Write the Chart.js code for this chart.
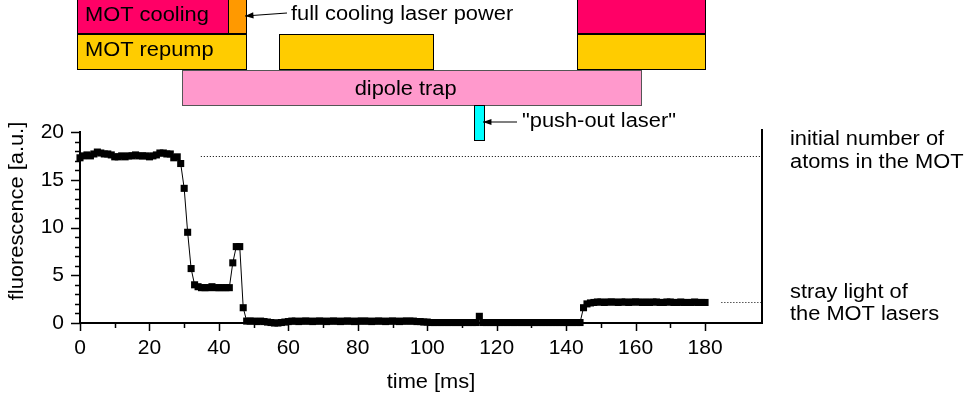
<!DOCTYPE html>
<html>
<head>
<meta charset="utf-8">
<script src="https://cdn.jsdelivr.net/npm/chart.js@4"></script>
<style>
  html, body { margin: 0; padding: 0; background: #fff; }
  canvas { display: block; }
</style>
</head>
<body>
<canvas id="trace" width="965" height="403"></canvas>
<script>
// fluorescence trace, one sample per ms starting at t = 0
const startMs = 0;
const stepMs = 1;
const fluorescence = [
  17.3, 17.5, 17.6, 17.5, 17.7, 17.9, 17.8, 17.7, 17.7, 17.6,   // 0
  17.4, 17.4, 17.5, 17.4, 17.5, 17.5, 17.6, 17.5, 17.5, 17.5,   // 10
  17.4, 17.5, 17.6, 17.8, 17.8, 17.7, 17.7, 17.3, 17.4, 16.7,   // 20
  14.1, 9.5, 5.7, 4.0, 3.8, 3.7, 3.7, 3.7, 3.8, 3.7,            // 30
  3.7, 3.7, 3.7, 3.7, 6.3, 8.0, 8.0, 1.6, 0.2, 0.2,             // 40
  0.2, 0.15, 0.2, 0.15, 0.1, 0.05, 0.0, 0.0, 0.05, 0.1,         // 50
  0.15, 0.2, 0.2, 0.15, 0.2, 0.2, 0.2, 0.15, 0.2, 0.2,          // 60
  0.2, 0.15, 0.2, 0.2, 0.2, 0.15, 0.2, 0.2, 0.2, 0.15,          // 70
  0.2, 0.2, 0.2, 0.2, 0.15, 0.2, 0.2, 0.2, 0.15, 0.2,           // 80
  0.2, 0.2, 0.15, 0.2, 0.2, 0.2, 0.2, 0.15, 0.15, 0.1,          // 90
  0.1, 0.05, 0.05, 0.05, 0.05, 0.05, 0.05, 0.05, 0.05, 0.05,    // 100
  0.05, 0.05, 0.05, 0.05, 0.05, 0.7, 0.05, 0.05, 0.05, 0.05,    // 110
  0.05, 0.05, 0.05, 0.05, 0.05, 0.05, 0.05, 0.05, 0.05, 0.05,   // 120
  0.05, 0.05, 0.05, 0.05, 0.05, 0.05, 0.05, 0.05, 0.05, 0.05,   // 130
  0.05, 0.05, 0.05, 0.05, 0.05, 1.6, 2.0, 2.1, 2.15, 2.2,       // 140
  2.2, 2.15, 2.2, 2.2, 2.2, 2.15, 2.2, 2.2, 2.15, 2.2,          // 150
  2.2, 2.2, 2.15, 2.2, 2.15, 2.2, 2.2, 2.15, 2.15, 2.2,         // 160
  2.2, 2.15, 2.15, 2.2, 2.15, 2.15, 2.15, 2.2, 2.15, 2.15,      // 170
  2.15                                                          // 180
];
const points = fluorescence.map((v, i) => ({ x: startMs + i * stepMs, y: v }));

// axis ranges and ticks
const xMax = 196.4;
const xLabelStep = 20;
const xMinorStep = 10;
const xLastTick = 180;
const yMax = 20;
const yLabelStep = 5;
const yMinorStep = 1;

// laser timing sequence (ms)
const coolingOn = [[-0.9, 42.6], [143.1, 180]];
const coolingFull = [[42.6, 47.8]];
const repumpOn = [[-0.9, 47.8], [57.3, 101.7], [143.1, 180]];
const dipoleOn = [[29.4, 161.6]];
const pushOutOn = [[113.5, 116.4]];

// reference levels marked on the right
const initialLevel = 17.5;
const strayLevel = 2.2;

const FAMILY = '"Liberation Sans", Arial, sans-serif';
const FONT = '19.5px ' + FAMILY;
const WIDEN = 1.12;

// text drawn a little wider than the plain font
function label(ctx, text, x, y, align, angle) {
  ctx.save();
  ctx.translate(x, y);
  if (angle) ctx.rotate(angle);
  ctx.scale(WIDEN, 1);
  ctx.textAlign = align;
  ctx.fillText(text, 0, 0);
  ctx.restore();
}

function arrow(ctx, x0, y0, x1, y1) {
  ctx.beginPath();
  ctx.moveTo(x0, y0);
  ctx.lineTo(x1, y1);
  ctx.stroke();
  const a = Math.atan2(y1 - y0, x1 - x0);
  ctx.beginPath();
  ctx.moveTo(x1, y1);
  ctx.lineTo(x1 - 9 * Math.cos(a - 0.35), y1 - 9 * Math.sin(a - 0.35));
  ctx.lineTo(x1 - 9 * Math.cos(a + 0.35), y1 - 9 * Math.sin(a + 0.35));
  ctx.closePath();
  ctx.fill();
}

const decorations = {
  id: 'decorations',
  afterDraw(chart) {
    const ctx = chart.ctx;
    const xs = chart.scales.x, ys = chart.scales.y;
    const area = chart.chartArea;
    const px = v => xs.getPixelForValue(v);
    const py = v => ys.getPixelForValue(v);
    ctx.save();

    // tick marks
    ctx.strokeStyle = '#000';
    ctx.lineWidth = 1.5;
    ctx.beginPath();
    for (let v = 0; v <= xLastTick; v += xMinorStep) {
      const len = v % xLabelStep === 0 ? 8 : 5;
      const x = Math.round(px(v)) + 0.5;
      ctx.moveTo(x, area.bottom);
      ctx.lineTo(x, area.bottom + len);
    }
    for (let v = 0; v <= yMax; v += yMinorStep) {
      const len = v % yLabelStep === 0 ? 9 : 5;
      const y = Math.round(py(v)) + 0.5;
      ctx.moveTo(area.left, y);
      ctx.lineTo(area.left - len, y);
    }
    ctx.stroke();

    // right frame line
    ctx.lineWidth = 2;
    ctx.beginPath();
    ctx.moveTo(area.right, area.top - 3);
    ctx.lineTo(area.right, area.bottom);
    ctx.stroke();

    // dotted reference levels
    ctx.lineWidth = 1;
    ctx.setLineDash([1, 2]);
    ctx.beginPath();
    ctx.moveTo(px(34.8), Math.round(py(initialLevel)) + 0.5);
    ctx.lineTo(area.right, Math.round(py(initialLevel)) + 0.5);
    ctx.moveTo(px(184.7), Math.round(py(strayLevel)) + 0.5);
    ctx.lineTo(area.right, Math.round(py(strayLevel)) + 0.5);
    ctx.stroke();
    ctx.setLineDash([]);

    // axis titles and side notes
    ctx.fillStyle = '#000';
    ctx.font = FONT;
    ctx.textBaseline = 'middle';
    label(ctx, 'time [ms]', 431, 383, 'center');
    label(ctx, 'fluorescence [a.u.]', 18, 211, 'center', -Math.PI / 2);
    ctx.textBaseline = 'alphabetic';
    label(ctx, 'initial number of', 790, 145, 'left');
    label(ctx, 'atoms in the MOT', 790, 168, 'left');
    label(ctx, 'stray light of', 790, 298, 'left');
    label(ctx, 'the MOT lasers', 790, 320, 'left');

    // timing boxes
    function box(span, top, bottom, fill, stroke) {
      const l = Math.round(px(span[0])), r = Math.round(px(span[1]));
      ctx.fillStyle = fill;
      ctx.fillRect(l, top, r - l, bottom - top);
      ctx.strokeStyle = stroke;
      ctx.lineWidth = 1;
      ctx.strokeRect(l + 0.5, top + 0.5, r - l, bottom - top);
    }
    coolingOn.forEach(s => box(s, -1, 33, '#ff0066', '#000'));
    coolingFull.forEach(s => box(s, -1, 33, '#ff9900', '#000'));
    repumpOn.forEach(s => box(s, 34, 69, '#ffcc00', '#000'));
    dipoleOn.forEach(s => box(s, 70, 105, '#ff99cc', '#555'));
    pushOutOn.forEach(s => box(s, 105, 140, '#00ffff', '#000'));

    ctx.fillStyle = '#000';
    ctx.strokeStyle = '#000';
    ctx.font = FONT;
    label(ctx, 'MOT cooling', 85, 21, 'left');
    label(ctx, 'MOT repump', 85, 56, 'left');
    label(ctx, 'full cooling laser power', 291, 20, 'left');
    label(ctx, '"push-out laser"', 522, 127, 'left');
    label(ctx, 'dipole trap', (px(dipoleOn[0][0]) + px(dipoleOn[0][1])) / 2 - 6, 95, 'center');

    ctx.lineWidth = 1.2;
    arrow(ctx, 287, 13, 245, 16);
    arrow(ctx, 517, 122, 483, 122);

    ctx.restore();
  }
};

new Chart(document.getElementById('trace'), {
  type: 'line',
  data: {
    datasets: [{
      data: points,
      borderColor: '#000',
      backgroundColor: '#000',
      borderWidth: 1,
      pointStyle: 'rect',
      pointRadius: 5,
      pointBorderWidth: 0,
      tension: 0,
      clip: false
    }]
  },
  options: {
    responsive: false,
    animation: false,
    events: [],
    layout: { padding: { top: 132, right: 203, left: 0, bottom: 0 } },
    plugins: { legend: { display: false }, tooltip: { enabled: false } },
    scales: {
      x: {
        type: 'linear',
        min: 0,
        max: xMax,
        afterFit: s => { s.height = 80; },
        grid: { display: false, drawTicks: false },
        border: { display: true, color: '#000', width: 2 },
        ticks: {
          stepSize: xLabelStep,
          includeBounds: false,
          padding: 13,
          color: '#000',
          font: { family: FAMILY, size: 21 },
          callback: v => (v <= xLastTick ? v : '')
        }
      },
      y: {
        min: 0,
        max: yMax,
        afterFit: s => { s.width = 80; },
        grid: { display: false, drawTicks: false },
        border: { display: true, color: '#000', width: 2 },
        ticks: {
          stepSize: yLabelStep,
          padding: 16,
          color: '#000',
          font: { family: FAMILY, size: 21 }
        }
      }
    }
  },
  plugins: [decorations]
});
</script>
</body>
</html>
